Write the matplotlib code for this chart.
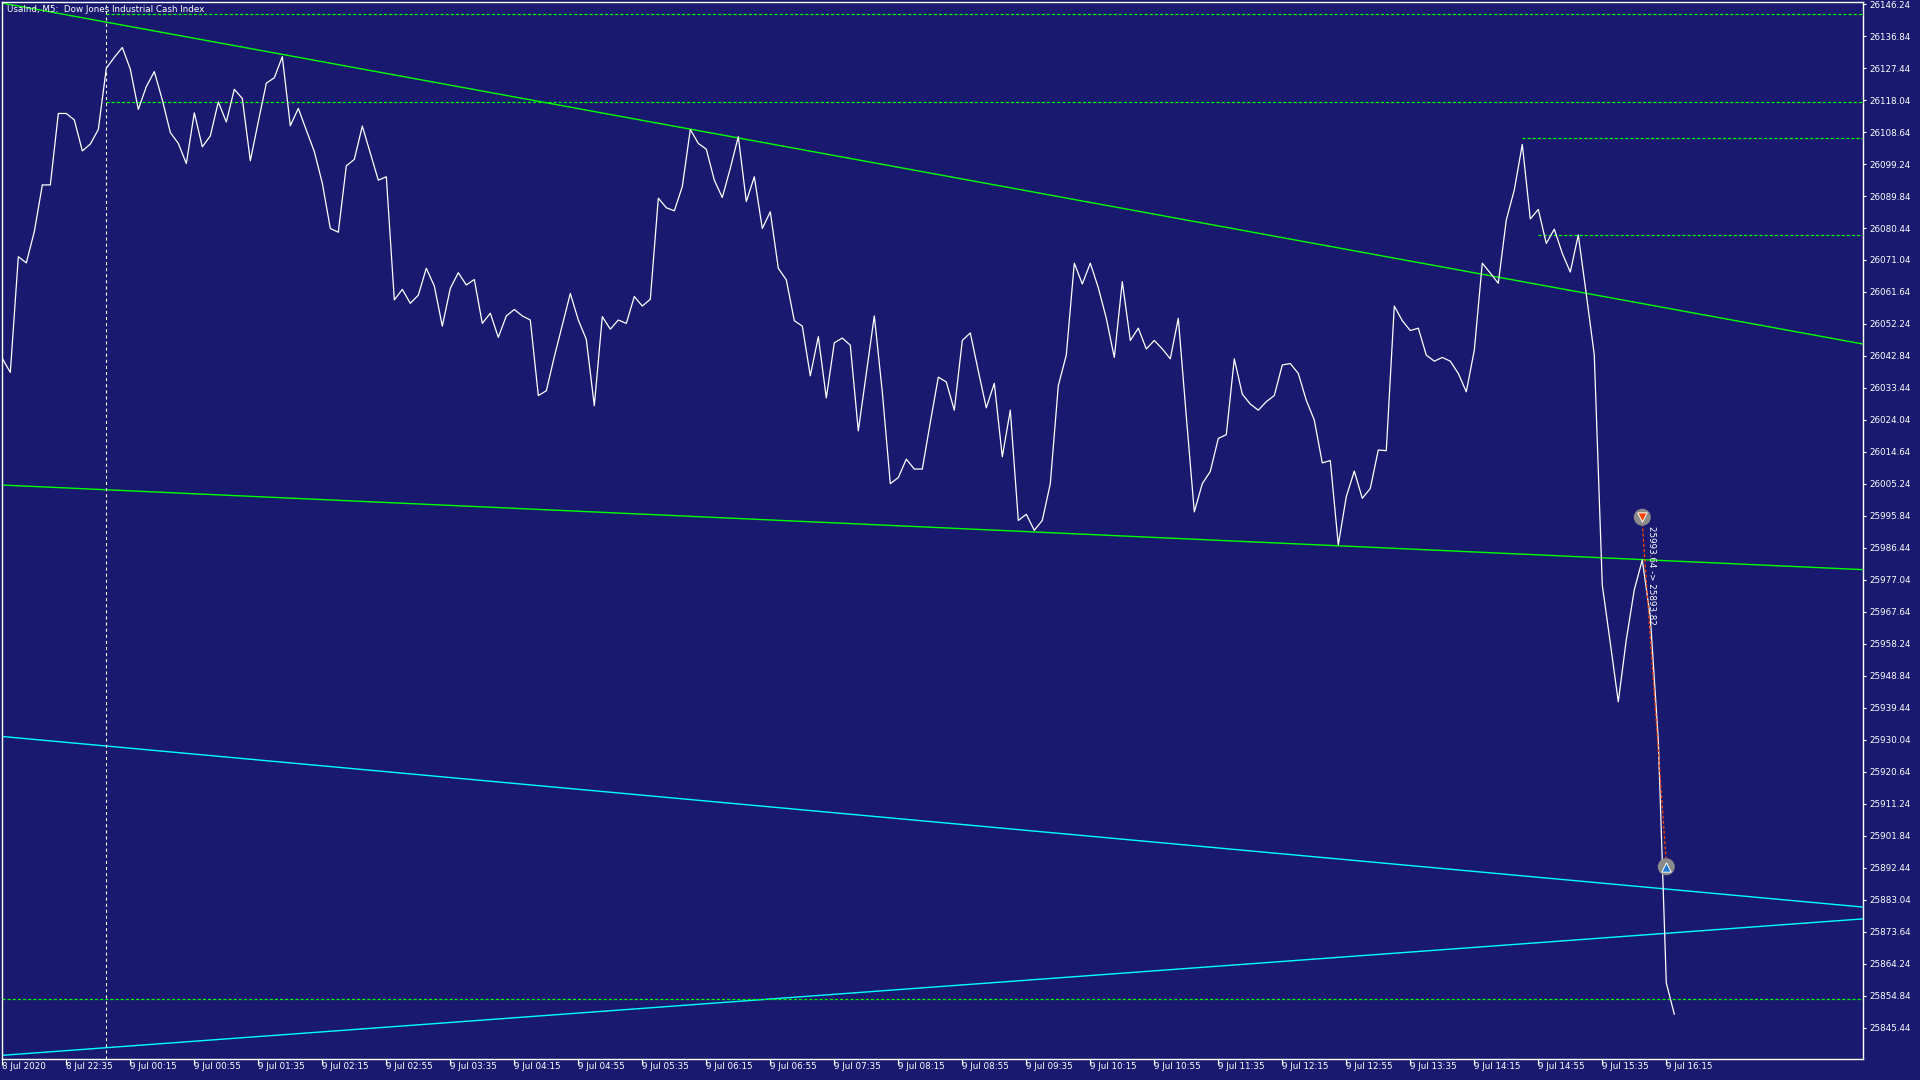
import matplotlib
matplotlib.use("Agg")
import matplotlib.pyplot as plt
import numpy as np

# ---------------- data ----------------
title = "UsaInd, M5:  Dow Jones Industrial Cash Index"

closes = [
    26042.1, 26038.0, 26072.0, 26070.2, 26079.4, 26093.1, 26093.1, 26114.1, 26114.1, 26112.2,
    26103.1, 26105.1, 26109.4, 26127.4, 26130.6, 26133.5, 26127.1, 26115.3, 26122.0, 26126.4,
    26118.1, 26108.5, 26105.3, 26099.4, 26114.3, 26104.3, 26107.5, 26117.5, 26111.6, 26121.2,
    26118.5, 26100.2, 26111.7, 26123.0, 26124.6, 26130.8, 26110.5, 26115.6, 26109.2, 26102.9,
    26093.6, 26080.3, 26079.2, 26098.7, 26100.6, 26110.4, 26102.4, 26094.5, 26095.5, 26059.3,
    26062.4, 26058.3, 26060.7, 26068.6, 26063.4, 26051.6, 26062.7, 26067.3, 26063.7, 26065.3,
    26052.4, 26055.4, 26048.3, 26054.6, 26056.5, 26054.6, 26053.4, 26031.2, 26032.6, 26042.6,
    26051.9, 26061.2, 26053.4, 26047.7, 26028.2, 26054.4, 26050.7, 26053.4, 26052.4, 26060.3,
    26057.5, 26059.5, 26089.2, 26086.4, 26085.5, 26092.6, 26109.4, 26105.3, 26103.6, 26094.5,
    26089.4, 26098.0, 26107.3, 26088.2, 26095.5, 26080.3, 26085.2, 26068.6, 26065.2, 26053.2,
    26051.6, 26037.0, 26048.5, 26030.5, 26046.7, 26048.1, 26046.0, 26020.8, 26037.7, 26054.6,
    26032.3, 26005.3, 26007.1, 26012.5, 26009.6, 26009.6, 26023.3, 26036.6, 26035.2, 26026.9,
    26047.4, 26049.6, 26038.4, 26027.6, 26034.8, 26013.2, 26026.9, 25994.5, 25996.3, 25991.6,
    25994.5, 26005.3, 26034.1, 26043.1, 26070.1, 26064.0, 26070.1, 26062.9, 26053.9, 26042.4,
    26064.7, 26047.4, 26051.0, 26044.9, 26047.4, 26044.9, 26042.0, 26053.9, 26025.1, 25997.0,
    26005.3, 26008.9, 26018.6, 26019.7, 26042.0, 26031.6, 26028.7, 26026.9, 26029.4, 26031.2,
    26040.2, 26040.6, 26037.7, 26029.8, 26024.0, 26011.4, 26012.1, 25987.3, 26001.5, 26009.0,
    26001.0, 26003.9, 26015.2, 26015.0, 26057.5, 26053.2, 26050.3, 26051.0, 26043.1, 26041.3,
    26042.4, 26041.3, 26037.7, 26032.3, 26044.5, 26070.1, 26067.2, 26064.2, 26082.8, 26091.6,
    26105.0, 26083.1, 26085.9, 26075.9, 26080.1, 26073.0, 26067.5, 26078.4, 26061.0, 26043.1,
    25975.5, 25958.5, 25941.2, 25959.4, 25974.1, 25982.9, 25966.1, 25930.0, 25858.6, 25849.4,
]

xtick_bars = list(range(0, 209, 8))
xtick_labels = [
    "8 Jul 2020", "8 Jul 22:35", "9 Jul 00:15", "9 Jul 00:55", "9 Jul 01:35", "9 Jul 02:15",
    "9 Jul 02:55", "9 Jul 03:35", "9 Jul 04:15", "9 Jul 04:55", "9 Jul 05:35", "9 Jul 06:15",
    "9 Jul 06:55", "9 Jul 07:35", "9 Jul 08:15", "9 Jul 08:55", "9 Jul 09:35", "9 Jul 10:15",
    "9 Jul 10:55", "9 Jul 11:35", "9 Jul 12:15", "9 Jul 12:55", "9 Jul 13:35", "9 Jul 14:15",
    "9 Jul 14:55", "9 Jul 15:35", "9 Jul 16:15",
]

ytick_top = 26146.24
ytick_step = 9.40
ytick_count = 33

# trend lines: (bar1, price1, bar2, price2, colour)
green_trends = [(0, 26146.54, 232, 26046.6), (0, 26004.9, 232, 25980.1)]
cyan_trends = [(0, 25931.0, 232, 25881.0), (0, 25837.3, 232, 25877.3)]

# horizontal dashed levels: (price, start bar)
levels = [(26143.2, 13), (26117.4, 13), (26106.8, 190), (26078.3, 192), (25853.8, 0)]

separator_bar = 13

trade_open_bar, trade_open_price = 205, 25993.64
trade_close_bar, trade_close_price = 208, 25893.82
trade_text = "25993.64 -> 25893.82"

# ---------------- style ----------------
BG = "#191970"
GREEN = "#00FF00"
CYAN = "#00FFFF"
plt.rcParams["font.family"] = ["DejaVu Sans"]
plt.rcParams["lines.scale_dashes"] = False
FS = 6.3

fig = plt.figure(figsize=(19.2, 10.8), dpi=100, facecolor=BG)
ax = fig.add_axes([2 / 1920, 21 / 1080, 1861 / 1920, 1057 / 1080])
ax.set_facecolor(BG)

x_left, x_right = -0.04, 232.59
y_bot, y_top = 25836.22, 26146.86
ax.set_xlim(x_left, x_right)
ax.set_ylim(y_bot, y_top)

bars = np.arange(len(closes))

# trend lines
for b1, p1, b2, p2 in green_trends:
    ax.axline((b1, p1), (b2, p2), color=GREEN, lw=1.0, zorder=2)
for b1, p1, b2, p2 in cyan_trends:
    ax.axline((b1, p1), (b2, p2), color=CYAN, lw=1.0, zorder=2)

# dashed levels
for price, start in levels:
    ax.plot([start, x_right], [price, price], color=GREEN, lw=0.9,
            dashes=(2.2, 1.5), zorder=2)

# period separator
ax.axvline(separator_bar, color="white", lw=0.8, dashes=(2.2, 2.2), zorder=2)

# price line
ax.plot(bars, closes, color="white", lw=0.9, zorder=3)

# trade
ax.plot([trade_open_bar, trade_close_bar], [trade_open_price, trade_close_price],
        color="#FF4500", lw=0.9, dashes=(2.2, 1.5), zorder=4)
ax.scatter([trade_open_bar], [trade_open_price + 1.8], s=150, color="#8a8a8a",
           edgecolors="none", zorder=5)
ax.scatter([trade_open_bar], [trade_open_price + 1.8], s=45, marker="v",
           color="#FF4500", edgecolors="white", linewidths=0.7, zorder=6)
ax.scatter([trade_close_bar], [trade_close_price - 1.1], s=150, color="#8a8a8a",
           edgecolors="none", zorder=5)
ax.scatter([trade_close_bar], [trade_close_price - 1.1], s=45, marker="^",
           color="#1E78D0", edgecolors="white", linewidths=0.7, zorder=6)
ax.text(trade_open_bar + 1.2, trade_open_price - 0.8, trade_text, rotation=270,
        color="white", fontsize=FS, ha="center", va="top", zorder=6)

# axes frame
for sp in ax.spines.values():
    sp.set_color("white")
    sp.set_linewidth(1.0)

# y axis on right
ax.yaxis.tick_right()
yt = [ytick_top - ytick_step * k for k in range(ytick_count)]
ax.set_yticks(yt)
ax.set_yticklabels([f"{v:.2f}" for v in yt])
ax.tick_params(axis="y", colors="white", labelcolor="white", direction="out",
               length=2.5, width=0.8, pad=2.0, labelsize=FS)

# x axis
ax.set_xticks(xtick_bars)
ax.set_xticklabels(xtick_labels)
ax.tick_params(axis="x", colors="white", labelcolor="white", direction="out",
               length=4, width=0.8, pad=-1.5, labelsize=FS)
for lab in ax.get_xticklabels():
    lab.set_horizontalalignment("left")

# title
fig.text(7 / 1920, 1 - 10 / 1080, title, color="white", fontsize=FS,
         ha="left", va="center")

fig.savefig("out.png", dpi=100, facecolor=BG)
